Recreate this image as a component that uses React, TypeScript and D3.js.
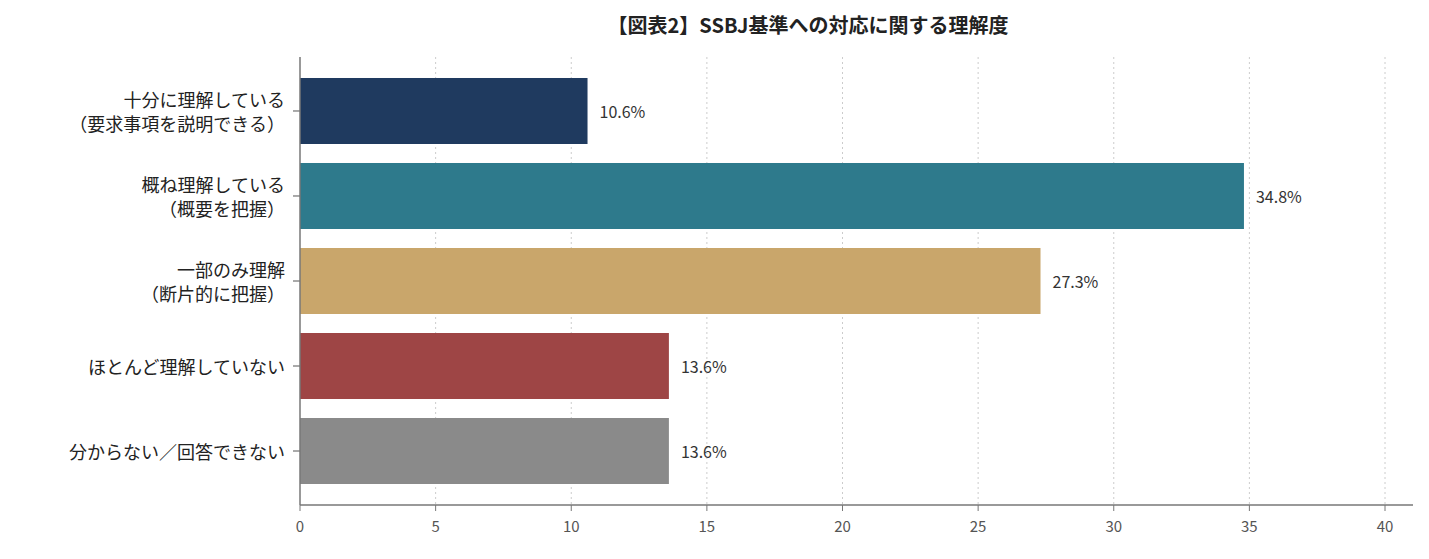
import React from "react";
import * as d3 from "d3";

const categories = [
  ["十分に理解している", "（要求事項を説明できる）"],
  ["概ね理解している", "（概要を把握）"],
  ["一部のみ理解", "（断片的に把握）"],
  ["ほとんど理解していない"],
  ["分からない／回答できない"],
];
const values = [10.6, 34.8, 27.3, 13.6, 13.6];
const colors = ["#1f3a5f", "#2e7a8c", "#c9a66b", "#9e4545", "#8a8a8a"];
const ticks = [0, 5, 10, 15, 20, 25, 30, 35, 40];
const title = "【図表2】SSBJ基準への対応に関する理解度";

export default function App() {
  const W = 1429, H = 559;
  const x = d3.scaleLinear().domain([0, 40]).range([300, 1385]);
  const y = d3.scaleBand<number>().domain(d3.range(5)).range([57, 505]).paddingInner(0.2235).paddingOuter(0.247);
  const font = "'Noto Sans CJK JP', 'Noto Sans', sans-serif";
  return (
    <svg width={W} height={H} style={{ position: "absolute", left: 0, top: 0 }} fontFamily={font}>
      <text x={808} y={33} textAnchor="middle" fontSize={20} fontWeight="bold" fill="#222">{title}</text>
      {ticks.slice(1).map(t => (
        <line key={t} x1={x(t)} x2={x(t)} y1={57} y2={505} stroke="#ccc" strokeDasharray="2,3" />
      ))}
      {values.map((v, i) => (
        <g key={i}>
          <rect x={x(0)} y={y(i)} width={x(v) - x(0)} height={y.bandwidth()} fill={colors[i]} />
          <text x={x(v) + 12} y={y(i)! + y.bandwidth() / 2} dominantBaseline="central" fontSize={16} fill="#333">{v.toFixed(1)}%</text>
          <line x1={293} x2={300} y1={y(i)! + y.bandwidth() / 2} y2={y(i)! + y.bandwidth() / 2} stroke="#555" />
          {categories[i].map((l, j) => (
            <text key={j} x={285} y={y(i)! + y.bandwidth() / 2 + (j - (categories[i].length - 1) / 2) * 24} dominantBaseline="central" textAnchor="end" fontSize={18} fill="#222">{l}</text>
          ))}
        </g>
      ))}
      <line x1={300} x2={300} y1={57} y2={505} stroke="#777" strokeWidth={1.5} />
      <line x1={300} x2={1413} y1={505} y2={505} stroke="#777" strokeWidth={1.5} />
      {ticks.map(t => (
        <g key={t}>
          <line x1={x(t)} x2={x(t)} y1={505} y2={511} stroke="#777" />
          <text x={x(t)} y={532} textAnchor="middle" fontSize={15} fill="#555">{t}</text>
        </g>
      ))}
    </svg>
  );
}
